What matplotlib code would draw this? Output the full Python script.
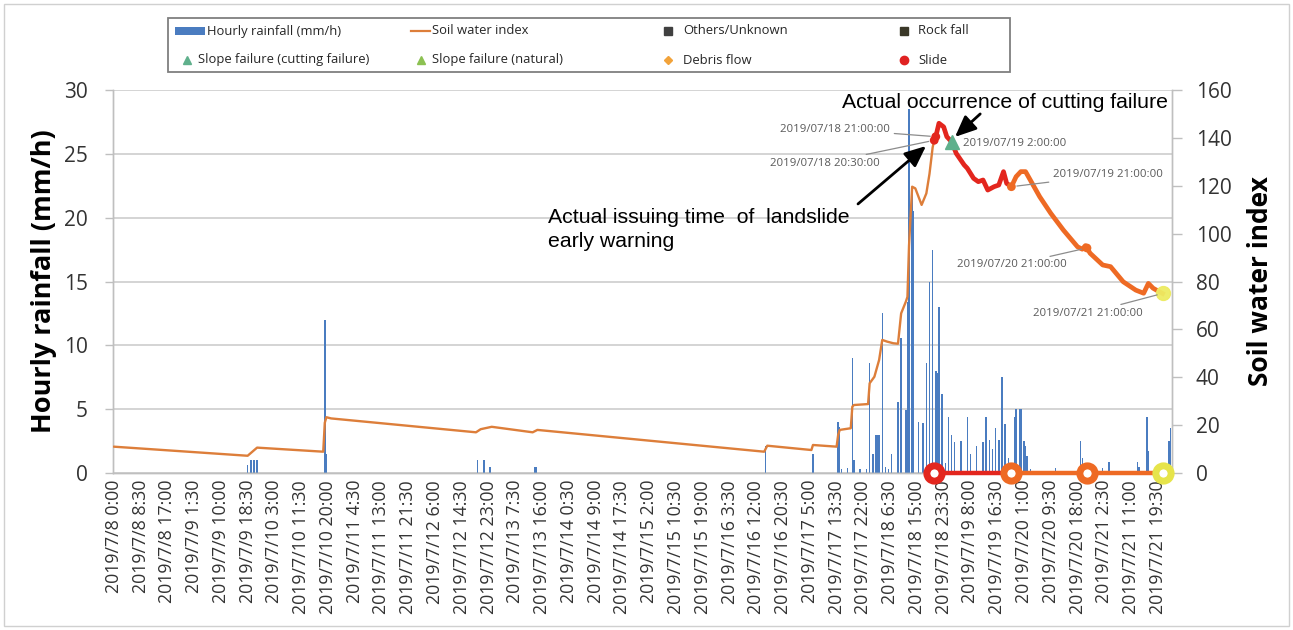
import numpy as np
import matplotlib
matplotlib.use("Agg")
import matplotlib.pyplot as plt
from matplotlib.lines import Line2D
from matplotlib.patches import Rectangle

# ---------------- data ----------------
tick_labels = [
    "2019/7/8 0:00", "2019/7/8 8:30", "2019/7/8 17:00", "2019/7/9 1:30", "2019/7/9 10:00",
    "2019/7/9 18:30", "2019/7/10 3:00", "2019/7/10 11:30", "2019/7/10 20:00", "2019/7/11 4:30",
    "2019/7/11 13:00", "2019/7/11 21:30", "2019/7/12 6:00", "2019/7/12 14:30", "2019/7/12 23:00",
    "2019/7/13 7:30", "2019/7/13 16:00", "2019/7/14 0:30", "2019/7/14 9:00", "2019/7/14 17:30",
    "2019/7/15 2:00", "2019/7/15 10:30", "2019/7/15 19:00", "2019/7/16 3:30", "2019/7/16 12:00",
    "2019/7/16 20:30", "2019/7/17 5:00", "2019/7/17 13:30", "2019/7/17 22:00", "2019/7/18 6:30",
    "2019/7/18 15:00", "2019/7/18 23:30", "2019/7/19 8:00", "2019/7/19 16:30", "2019/7/20 1:00",
    "2019/7/20 9:30", "2019/7/20 18:00", "2019/7/21 2:30", "2019/7/21 11:00", "2019/7/21 19:30",
]
tick_step_hours = 8.5

# hours since 2019/7/8 0:00
rain_hours = [42.5, 43.5, 44.5, 45.5, 67, 67.5, 115.5, 117.5, 119.5, 133.5, 134, 207, 222,
              230, 230.5, 231, 233, 234.5, 235, 237, 239, 240, 241, 242, 242.5, 243, 244, 245,
              246, 247, 249, 250, 251.5, 252, 252.5, 253.5, 254, 255.5, 257, 258, 259, 260, 261,
              261.5, 262, 263, 264, 265, 266, 267, 269, 271, 272, 274, 276, 277, 278, 279, 280,
              281, 282, 283, 284, 286, 286.5, 287.5, 288, 289, 289.5, 290, 291, 299, 307, 307.5,
              314, 316, 325, 325.5, 328, 328.5, 333, 335, 335.5]
rain_mm = [0.6, 1.0, 1.0, 1.0, 12.0, 1.5, 1.0, 1.0, 0.5, 0.5, 0.5, 2.1, 1.5,
           4.0, 3.6, 0.3, 0.4, 9.0, 1.0, 0.3, 0.3, 8.6, 1.5, 3.0, 3.0, 3.0, 12.5, 0.5,
           0.3, 1.5, 5.6, 10.6, 4.9, 13.4, 28.5, 22.0, 20.5, 4.0, 3.9, 8.6, 15.0, 17.5, 8.0,
           7.8, 13.0, 6.2, 0.8, 4.4, 3.0, 2.4, 2.5, 4.4, 1.5, 2.1, 2.4, 4.4, 2.6, 1.9, 3.5,
           2.6, 7.5, 3.8, 1.2, 4.4, 5.0, 5.0, 5.0, 2.5, 2.1, 1.3, 0.3, 0.4, 2.5, 1.2,
           0.4, 0.9, 0.9, 0.5, 4.4, 1.7, 0.3, 2.5, 3.5]

swi_hours = [0, 42.5, 44, 45.5, 66.5, 67, 67.5, 69, 115, 116.5, 120, 133, 134.5, 206.5, 207.5,
             221.5, 222, 229.5, 230, 230.5, 234, 234.5, 235, 239.5, 240, 241.5, 243, 244, 245.5,
             247.5, 249, 250, 251.5, 252, 252.5, 253.5, 254.5, 256.5, 258, 259, 260, 260.5, 261,
             262, 263.5, 264.5, 266, 267.5, 270, 271, 272, 273, 274.5, 276, 277.5, 279.5, 281,
             282.5, 283.5, 285, 286.5, 288, 289.5, 291, 294, 297.5, 301.5, 306, 307.5, 308.5,
             309, 310, 314, 316.5, 320.5, 324.5, 327, 328.5, 330, 332, 333]
swi_values = [11.0, 7.2, 8.9, 10.6, 8.9, 21.0, 23.3, 22.8, 17.0, 18.3, 19.3, 17.0, 18.0, 8.9, 11.4,
              9.6, 11.7, 11.0, 15.9, 18.0, 18.7, 27.7, 28.4, 28.8, 37.5, 40.2, 47.2, 55.6, 54.9,
              54.2, 54.0, 66.7, 71.6, 73.6, 95.0, 119.6, 118.9, 112.0, 116.8, 125.0, 136.0, 139.0, 140.5,
              146.1, 144.6, 140.5, 138.4, 133.5, 128.7, 127.3, 125.2, 123.1, 121.7, 122.4, 118.2, 119.6, 120.3,
              125.9, 121.0, 119.6, 123.8, 125.9, 125.9, 122.4, 115.4, 108.5, 101.5, 94.5, 93.5, 95.0,
              94.0, 91.8, 86.9, 86.2, 79.9, 76.4, 75.1, 79.2, 77.2, 75.7, 75.0]

# warning level changes (time, colour) and labelled points on the SWI curve
warn_hours = [260.5, 285, 309, 333]
warn_colors = ["#E3261E", "#EE6A24", "#EE6A24", "#E6E44A"]
event_hours = [260.5, 261, 285, 309, 333]
event_swi = [139.0, 140.5, 119.6, 94.0, 75.0]
event_labels = ["2019/07/18 20:30:00", "2019/07/18 21:00:00", "2019/07/19 21:00:00",
                "2019/07/20 21:00:00", "2019/07/21 21:00:00"]
cut_fail_hour = 266
cut_fail_swi = 138.4
cut_fail_label = "2019/07/19 2:00:00"

# ---------------- styling ----------------
plt.rcParams['font.family'] = ['Open Sans', 'DejaVu Sans']
W, H = 1293, 630
fig = plt.figure(figsize=(W / 100, H / 100), dpi=100)
L, R, B, T = 113, 1172, 473, 90
ax = fig.add_axes([L / W, 1 - B / H, (R - L) / W, (B - T) / H])
ax2 = ax.twinx()

BLUE = "#4A7CC0"
ORANGE_THIN = "#DD7E3A"
GRID = "#C9C9C9"
TXT = "#333333"

ax.bar(rain_hours, rain_mm, width=0.46, color=BLUE, zorder=2, linewidth=0)
ax.set_xlim(-0.25, 336.0)
ax.set_ylim(0, 30)
ax.set_yticks(range(0, 31, 5))
ax.grid(axis='y', color=GRID, lw=1.1, zorder=0)
ax.set_axisbelow(True)
ax.set_xticks(np.arange(len(tick_labels)) * tick_step_hours)
ax.set_xticklabels(tick_labels, rotation=90, fontsize=12.8, color=TXT)
ax.tick_params(axis='x', length=0, pad=5)
ax.tick_params(axis='y', length=6, width=1, color="#BFBFBF", pad=12, labelsize=15, labelcolor=TXT)

ax2.set_ylim(0, 160)
ax2.set_yticks(range(0, 161, 20))
ax2.tick_params(axis='y', length=7, width=1, color="#BFBFBF", pad=10, labelsize=15, labelcolor=TXT)

for a in (ax, ax2):
    a.spines['top'].set_visible(False)
    for s in ('left', 'right', 'bottom'):
        a.spines[s].set_color("#BFBFBF")
        a.spines[s].set_linewidth(1.0)

ax.set_ylabel("Hourly rainfall (mm/h)", fontsize=19.5, fontweight='bold', color='black')
ax.yaxis.label.set_va('center')
ax.yaxis.set_label_coords((44 - L) / (R - L), 0.5)
ax2.set_ylabel("Soil water index", fontsize=19, fontweight='bold', color='black', rotation=90)
ax2.yaxis.label.set_va('center')
ax2.yaxis.set_label_coords((1260 - L) / (R - L), 0.5)

# SWI line, split by warning state
sh = np.array(swi_hours)
sv = np.array(swi_values)
m0 = sh <= warn_hours[0]
m1 = (sh >= warn_hours[0]) & (sh <= warn_hours[1])
m2 = (sh >= warn_hours[1]) & (sh <= warn_hours[3])
ax2.plot(sh[m0], sv[m0], color=ORANGE_THIN, lw=1.7, zorder=3, solid_capstyle='round')
ax2.plot(sh[m1], sv[m1], color=warn_colors[0], lw=3.4, zorder=4, solid_joinstyle='round')
ax2.plot(sh[m2], sv[m2], color=warn_colors[1], lw=3.4, zorder=4, solid_joinstyle='round')

# event dots on the curve
dot_colors = [warn_colors[0], warn_colors[0], warn_colors[1], warn_colors[2]]
ax2.scatter(event_hours[:4], event_swi[:4], s=40, color=dot_colors, zorder=6, linewidths=0)
ax2.plot([event_hours[4]], [event_swi[4]], marker='o', ms=10, color="#EDEB62", alpha=0.95,
         zorder=6, lw=0)
ax2.plot([cut_fail_hour], [cut_fail_swi], marker='^', ms=10, color="#5FB08C", zorder=7, lw=0)

# warning timeline at the bottom
ax2.plot(warn_hours[0:2], [0, 0], color=warn_colors[0], lw=3.2, zorder=8, clip_on=False)
ax2.plot(warn_hours[1:4], [0, 0, 0], color=warn_colors[1], lw=3.2, zorder=8, clip_on=False)
for h, c in zip(warn_hours, warn_colors):
    ax2.plot([h], [0], marker='o', ms=11, mfc='white', mec=c, mew=5, zorder=9, clip_on=False)

# grey data labels with leader lines
lab_kw = dict(fontsize=8.2, color="#595959", zorder=10)
lead = dict(arrowstyle='-', color="#8C8C8C", lw=0.9, shrinkA=1, shrinkB=4)
label_pos = [(243.3, 129.5, 'right'), (246.5, 143.7, 'right'), (298.2, 124.5, 'left'),
             (302.7, 86.9, 'right'), (326.8, 66.8, 'right')]
for (tx, ty, ha), hx, hy, lab in zip(label_pos, event_hours, event_swi, event_labels):
    ax2.annotate(lab, xy=(hx, hy), xytext=(tx, ty), ha=ha, va='center',
                 arrowprops=lead, **lab_kw)
ax2.text(269.7, 137.8, cut_fail_label, ha='left', va='center', **lab_kw)

# black callouts
blk = dict(family=['Liberation Sans', 'DejaVu Sans'], fontsize=15.3, color='black', zorder=11)
ax2.text(231.3, 154.6, "Actual occurrence of cutting failure", ha='left', va='center', **blk)
ax2.text(137.9, 110.5, "Actual issuing time  of  landslide\nearly warning", ha='left', va='top',
         linespacing=1.3, **blk)
arr = dict(arrowstyle='-|>,head_length=0.8,head_width=0.35', color='black', lw=2.0,
           mutation_scale=16, shrinkA=0, shrinkB=0)
ax2.annotate("", xy=(257.9, 136.6), xytext=(236.3, 112.4), arrowprops=arr, zorder=11)
ax2.annotate("", xy=(267.1, 140.4), xytext=(275.1, 150.0), arrowprops=arr, zorder=11)

# ---------------- legend (drawn in figure pixels) ----------------
def P(x, y):
    return x / W, 1 - y / H

fig.add_artist(Rectangle(P(168, 72), (1010 - 168) / W, (72 - 18) / H, transform=fig.transFigure,
                         fill=False, edgecolor="#7F7F7F", lw=1.3))
leg_fs = 9.4
leg_col = "#262626"
r1, r2 = 31, 60
# row 1
fig.add_artist(Rectangle(P(175, r1 + 4), 30 / W, 8 / H, transform=fig.transFigure,
                         facecolor=BLUE, edgecolor='none'))
fig.text(*P(207, r1), "Hourly rainfall (mm/h)", fontsize=leg_fs, color=leg_col, va='center')
fig.add_artist(Line2D([411 / W, 430 / W], [1 - r1 / H] * 2, color=ORANGE_THIN, lw=1.6,
                      transform=fig.transFigure))
fig.text(*P(432, r1), "Soil water index", fontsize=leg_fs, color=leg_col, va='center')
fig.add_artist(Line2D([668 / W], [1 - r1 / H], marker='s', ms=6, color="#404040", lw=0,
                      transform=fig.transFigure))
fig.text(*P(683, r1), "Others/Unknown", fontsize=leg_fs, color=leg_col, va='center')
fig.add_artist(Line2D([904 / W], [1 - r1 / H], marker='s', ms=6, color="#3A3828", lw=0,
                      transform=fig.transFigure))
fig.text(*P(918, r1), "Rock fall", fontsize=leg_fs, color=leg_col, va='center')
# row 2
fig.add_artist(Line2D([187 / W], [1 - r2 / H], marker='^', ms=6, color="#5FB08C", lw=0,
                      transform=fig.transFigure))
fig.text(*P(198, r2), "Slope failure (cutting failure)", fontsize=leg_fs, color=leg_col, va='center')
fig.add_artist(Line2D([421 / W], [1 - r2 / H], marker='^', ms=6, color="#8CC152", lw=0,
                      transform=fig.transFigure))
fig.text(*P(432, r2), "Slope failure (natural)", fontsize=leg_fs, color=leg_col, va='center')
fig.add_artist(Line2D([668 / W], [1 - r2 / H], marker='D', ms=4.5, color="#F2A33A", lw=0,
                      transform=fig.transFigure))
fig.text(*P(683, r2), "Debris flow", fontsize=leg_fs, color=leg_col, va='center')
fig.add_artist(Line2D([904 / W], [1 - r2 / H], marker='o', ms=6, color="#E02222", lw=0,
                      transform=fig.transFigure))
fig.text(*P(918, r2), "Slide", fontsize=leg_fs, color=leg_col, va='center')

# outer chart border
fig.add_artist(Rectangle(P(4, 626), (1289 - 4) / W, (626 - 4) / H, transform=fig.transFigure,
                         fill=False, edgecolor="#D0D0D0", lw=1.0))

fig.savefig("out.png", dpi=100)
